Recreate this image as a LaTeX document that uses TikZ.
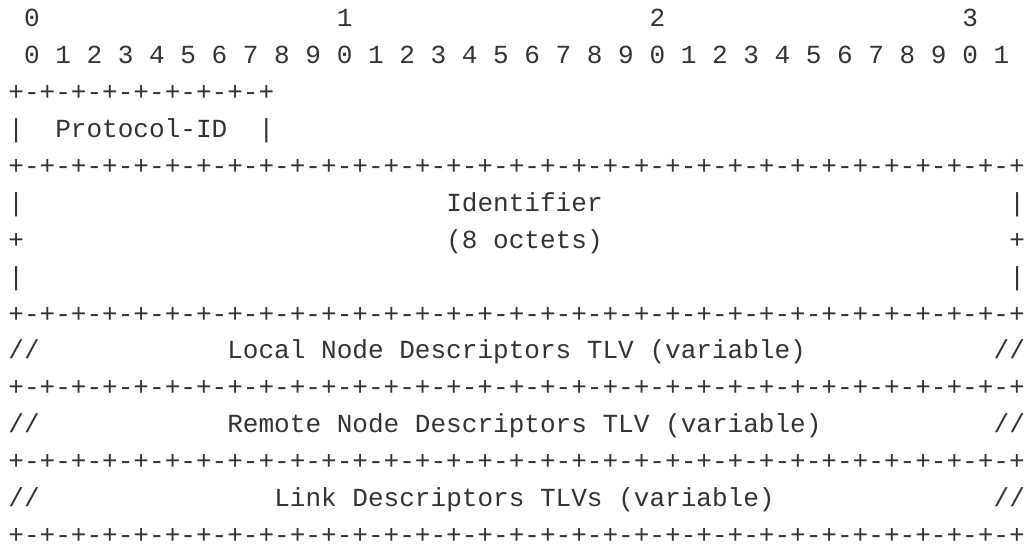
\documentclass[tikz,border=0pt]{standalone}
\usepackage{fontspec}
\newfontfamily\pktfont{Liberation Mono}
\usetikzlibrary{positioning}
\definecolor{pktink}{HTML}{333333}

% a run of blank columns
\newcommand\gap[1]{\hspace*{#1\fontcharwd\font`0}}
\newcommand\shortborder{+-+-+-+-+-+-+-+-+}
\newcommand\border{+-+-+-+-+-+-+-+-+-+-+-+-+-+-+-+-+-+-+-+-+-+-+-+-+-+-+-+-+-+-+-+-+}

\begin{document}
\begin{tikzpicture}[x=1pt,y=1pt]
	\tikzstyle{row} = [inner sep=0pt, anchor=base west, text=pktink, font=\pktfont\fontsize{13.03pt}{18pt}\selectfont]
	\useasboundingbox (0,0) rectangle (513,-273);

	\node [row] (tens) at (4,-13.35) {~0\gap{19}1\gap{19}2\gap{19}3};
	\node [row, below = 18.46pt of tens.base west, anchor=base west] (units) {~0 1 2 3 4 5 6 7 8 9 0 1 2 3 4 5 6 7 8 9 0 1 2 3 4 5 6 7 8 9 0 1};
	\node [row, below = 18.46pt of units.base west, anchor=base west] (b1) {\shortborder};
	\node [row, below = 18.46pt of b1.base west, anchor=base west] (proto) {|\gap{2}Protocol-ID\gap{2}|};
	\node [row, below = 18.46pt of proto.base west, anchor=base west] (b2) {\border};
	\node [row, below = 18.46pt of b2.base west, anchor=base west] (ident) {|\gap{27}Identifier\gap{26}|};
	\node [row, below = 18.46pt of ident.base west, anchor=base west] (octets) {+\gap{27}(8 octets)\gap{26}+};
	\node [row, below = 18.46pt of octets.base west, anchor=base west] (blank) {|\gap{63}|};
	\node [row, below = 18.46pt of blank.base west, anchor=base west] (b3) {\border};
	\node [row, below = 18.46pt of b3.base west, anchor=base west] (local) {//\gap{12}Local Node Descriptors TLV (variable)\gap{12}//};
	\node [row, below = 18.46pt of local.base west, anchor=base west] (b4) {\border};
	\node [row, below = 18.46pt of b4.base west, anchor=base west] (remote) {//\gap{12}Remote Node Descriptors TLV (variable)\gap{11}//};
	\node [row, below = 18.46pt of remote.base west, anchor=base west] (b5) {\border};
	\node [row, below = 18.46pt of b5.base west, anchor=base west] (link) {//\gap{15}Link Descriptors TLVs (variable)\gap{14}//};
	\node [row, below = 18.46pt of link.base west, anchor=base west] (b6) {\border};

\end{tikzpicture}
\end{document}
